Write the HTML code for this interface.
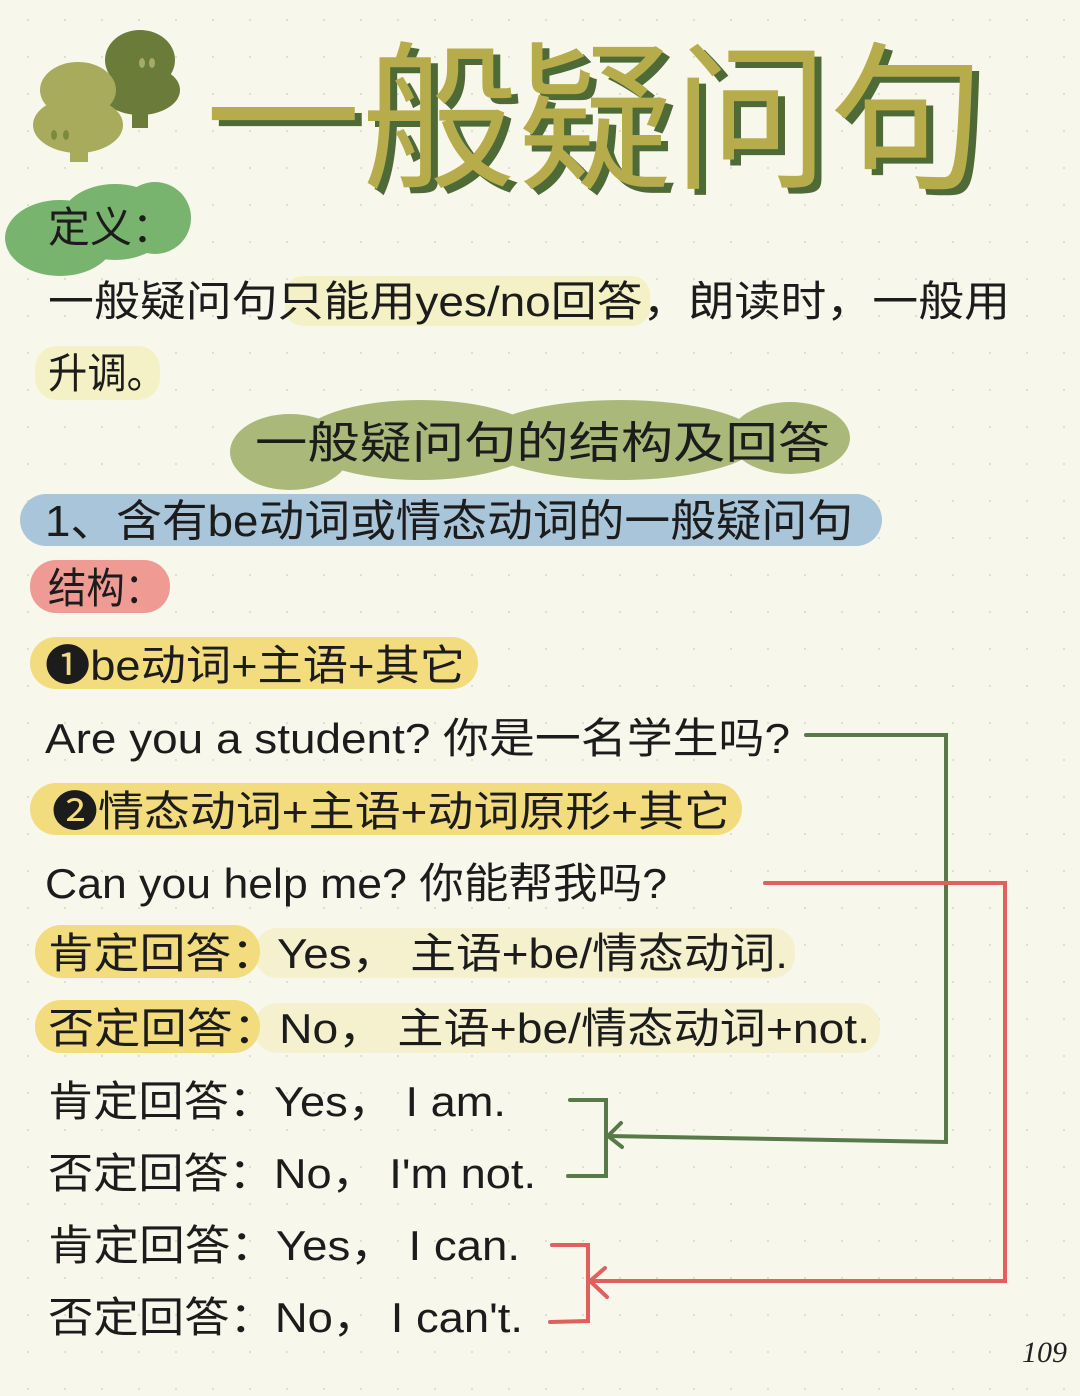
<!DOCTYPE html>
<html><head><meta charset="utf-8"><style>
html,body{margin:0;padding:0;background:#f8f7ec}
svg{display:block}
text{font-family:"Liberation Sans","Noto Sans CJK SC",sans-serif;fill:#1c1c1c}
</style></head><body>
<svg width="1080" height="1396" viewBox="0 0 1080 1396" xmlns="http://www.w3.org/2000/svg">
<defs><pattern id="d" width="37" height="37" patternUnits="userSpaceOnUse"><circle cx="28" cy="20" r="1" fill="#d8d6c8"/></pattern></defs>
<rect width="1080" height="1396" fill="#f8f7ec"/>
<rect width="1080" height="1396" fill="url(#d)"/>
<!-- trees -->
<g fill="#6a7b3a"><ellipse cx="140" cy="60" rx="35" ry="30"/><ellipse cx="140" cy="90" rx="40" ry="25"/><rect x="132" y="100" width="16" height="28"/></g>
<g fill="#a8ab5c"><ellipse cx="78" cy="90" rx="38" ry="28"/><ellipse cx="78" cy="125" rx="45" ry="28"/><rect x="70" y="140" width="18" height="22"/></g>
<g fill="#a5ab6a"><ellipse cx="142" cy="63" rx="3" ry="5"/><ellipse cx="152" cy="63" rx="3" ry="5"/></g>
<g fill="#7c8a3e"><ellipse cx="54" cy="135" rx="3" ry="5"/><ellipse cx="66" cy="135" rx="3" ry="5"/></g>
<!-- title -->
<text x="212" y="182" font-size="160" textLength="780" lengthAdjust="spacingAndGlyphs" style="fill:#4e6b37">一般疑问句</text>
<text x="205" y="176" font-size="160" textLength="780" lengthAdjust="spacingAndGlyphs" style="fill:#b7ac4c">一般疑问句</text>
<!-- 定义 -->
<g fill="#78b46e"><ellipse cx="60" cy="238" rx="55" ry="38"/><ellipse cx="115" cy="222" rx="55" ry="38"/><ellipse cx="155" cy="218" rx="36" ry="36"/></g>
<text x="48" y="242" font-size="42">定义：</text>
<!-- line1 -->
<rect x="285" y="276" width="365" height="50" rx="18" fill="#f4f1c6"/>
<text x="48" y="316" font-size="42" textLength="962" lengthAdjust="spacingAndGlyphs">一般疑问句只能用yes/no回答，朗读时，一般用</text>
<rect x="35" y="346" width="125" height="54" rx="22" fill="#f4f1c6"/>
<text x="48" y="388" font-size="42" textLength="118" lengthAdjust="spacingAndGlyphs">升调。</text>
<!-- header blob -->
<g fill="#aab97a"><ellipse cx="290" cy="452" rx="60" ry="38"/><ellipse cx="420" cy="440" rx="120" ry="40"/><ellipse cx="620" cy="440" rx="140" ry="40"/><ellipse cx="790" cy="438" rx="60" ry="36"/></g>
<text x="255" y="458" font-size="44" textLength="575" lengthAdjust="spacingAndGlyphs">一般疑问句的结构及回答</text>
<!-- blue -->
<rect x="20" y="494" width="862" height="52" rx="26" fill="#a9c5d9"/>
<text x="45" y="536" font-size="44" textLength="808" lengthAdjust="spacingAndGlyphs">1、含有be动词或情态动词的一般疑问句</text>
<!-- 结构 -->
<rect x="30" y="560" width="140" height="53" rx="26" fill="#ef9b94"/>
<text x="48" y="603" font-size="42" textLength="115" lengthAdjust="spacingAndGlyphs">结构：</text>
<!-- 1 -->
<rect x="30" y="637" width="448" height="52" rx="26" fill="#f3dc7d"/>
<text x="45" y="680" font-size="42" textLength="420" lengthAdjust="spacingAndGlyphs">❶be动词+主语+其它</text>
<text x="45" y="753" font-size="42" textLength="745" lengthAdjust="spacingAndGlyphs">Are you a student? 你是一名学生吗?</text>
<rect x="30" y="783" width="712" height="52" rx="26" fill="#f3dc7d"/>
<text x="52" y="826" font-size="42" textLength="678" lengthAdjust="spacingAndGlyphs">❷情态动词+主语+动词原形+其它</text>
<text x="45" y="898" font-size="42" textLength="622" lengthAdjust="spacingAndGlyphs">Can you help me? 你能帮我吗?</text>
<!-- answers -->
<rect x="255" y="928" width="540" height="50" rx="22" fill="#f5f1cf"/>
<rect x="35" y="925" width="225" height="53" rx="26" fill="#f3dc7d"/>
<text x="48" y="968" font-size="42" textLength="740" lengthAdjust="spacingAndGlyphs">肯定回答：Yes， 主语+be/情态动词.</text>
<rect x="255" y="1003" width="625" height="50" rx="22" fill="#f5f1cf"/>
<rect x="35" y="1000" width="225" height="53" rx="26" fill="#f3dc7d"/>
<text x="48" y="1043" font-size="42" textLength="822" lengthAdjust="spacingAndGlyphs">否定回答：No， 主语+be/情态动词+not.</text>
<text x="48" y="1116" font-size="42" textLength="458" lengthAdjust="spacingAndGlyphs">肯定回答：Yes， I am.</text>
<text x="48" y="1188" font-size="42" textLength="488" lengthAdjust="spacingAndGlyphs">否定回答：No， I'm not.</text>
<text x="48" y="1260" font-size="42" textLength="472" lengthAdjust="spacingAndGlyphs">肯定回答：Yes， I can.</text>
<text x="48" y="1332" font-size="42" textLength="475" lengthAdjust="spacingAndGlyphs">否定回答：No， I can't.</text>
<!-- connectors -->
<g fill="none" stroke="#587a48" stroke-width="4" stroke-linecap="round">
<polyline points="806,735 946,735 946,1142 608,1136"/>
<polyline points="570,1100 606,1100 606,1176 568,1176"/>
<polyline points="621,1123 608,1136 622,1147"/>
</g>
<g fill="none" stroke="#e0605e" stroke-width="4" stroke-linecap="round">
<polyline points="765,883 1005,883 1005,1281 590,1281"/>
<polyline points="552,1245 588,1245 588,1321 550,1322"/>
<polyline points="605,1268 590,1281 607,1297"/>
</g>
<text x="1022" y="1362" font-size="30" style="font-family:'Liberation Serif',serif;font-style:italic;fill:#222">109</text>
</svg>
</body></html>
